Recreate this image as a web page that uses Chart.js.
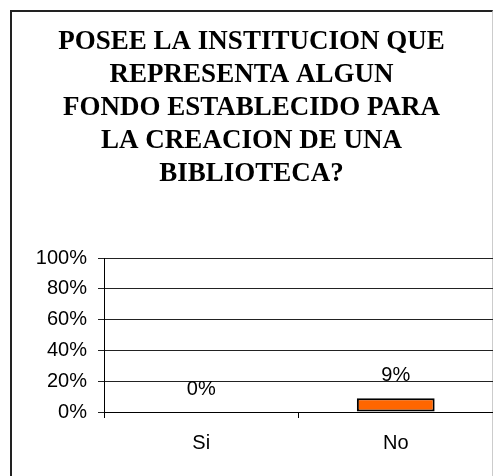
<!DOCTYPE html>
<html>
<head>
<meta charset="utf-8">
<script src="https://cdn.jsdelivr.net/npm/chart.js@4"></script>
<style>
  body { margin: 0; background: #fff; }
  #wrap { position: relative; width: 493px; height: 476px; overflow: hidden; }
  #frame {
    position: absolute; left: 10px; top: 10px; width: 480px; height: 480px;
    border-left: 2px solid #222; border-top: 2px solid #222; border-right: 1px solid #ccc;
  }
  #chart-canvas { position: absolute; left: 0; top: 0; }
</style>
</head>
<body>
<div id="wrap">
  <div id="frame"></div>
  <canvas id="chart-canvas" width="493" height="476"></canvas>
</div>
<script>
const ctx = document.getElementById('chart-canvas');

// Chart data
const title_lines = [
  'POSEE LA INSTITUCION QUE',
  'REPRESENTA ALGUN',
  'FONDO ESTABLECIDO PARA',
  'LA CREACION DE UNA',
  'BIBLIOTECA?'
];
const categories = ['Si', 'No'];
const percent_values = [0, 9];
const y_ticks = [0, 20, 40, 60, 80, 100];

const sans = '"Liberation Sans", Arial, sans-serif';

// Draws "x%" above each bar
const value_labels = {
  id: 'value_labels',
  afterDatasetsDraw(chart) {
    const c = chart.ctx;
    const meta = chart.getDatasetMeta(0);
    c.save();
    c.font = '20px ' + sans;
    c.fillStyle = '#000';
    c.textAlign = 'center';
    c.textBaseline = 'middle';
    meta.data.forEach((bar, i) => {
      c.fillText(percent_values[i] + '%', bar.x, bar.y - 23);
    });
    c.restore();
  }
};

const chart = new Chart(ctx, {
  type: 'bar',
  data: {
    labels: categories,
    datasets: [
      {
        data: percent_values,
        backgroundColor: '#ff6600',
        borderColor: '#000',
        borderWidth: 2,
        borderSkipped: false,
        categoryPercentage: 1,
        barPercentage: 0.4
      }
    ]
  },
  options: {
    responsive: false,
    animation: false,
    layout: {
      padding: { left: 10, top: 10, right: 0, bottom: 0 }
    },
    plugins: {
      legend: { display: false },
      tooltip: { enabled: false },
      title: {
        display: true,
        text: title_lines,
        color: '#000',
        font: { family: '"Liberation Serif", "Times New Roman", serif', size: 27, weight: 'bold', lineHeight: 33 / 27 },
        padding: { top: 16, bottom: 67 }
      }
    },
    scales: {
      x: {
        afterFit: (scale) => { scale.height = 64; },
        grid: {
          offset: true,
          drawOnChartArea: false,
          drawTicks: true,
          tickLength: 6,
          color: '#000'
        },
        border: { color: '#000', width: 1 },
        ticks: {
          color: '#000',
          padding: 13,
          font: { family: sans, size: 20 }
        }
      },
      y: {
        min: 0,
        max: 100,
        afterFit: (scale) => { scale.width = 94; },
        afterBuildTicks: (scale) => { scale.ticks = y_ticks.map(v => ({ value: v })); },
        grid: {
          color: '#222',
          tickLength: 6,
          drawTicks: true
        },
        border: { color: '#000', width: 1 },
        ticks: {
          color: '#000',
          padding: 11,
          font: { family: sans, size: 20 },
          callback: (v) => v + '%'
        }
      }
    }
  },
  plugins: [value_labels]
});
</script>
</body>
</html>
